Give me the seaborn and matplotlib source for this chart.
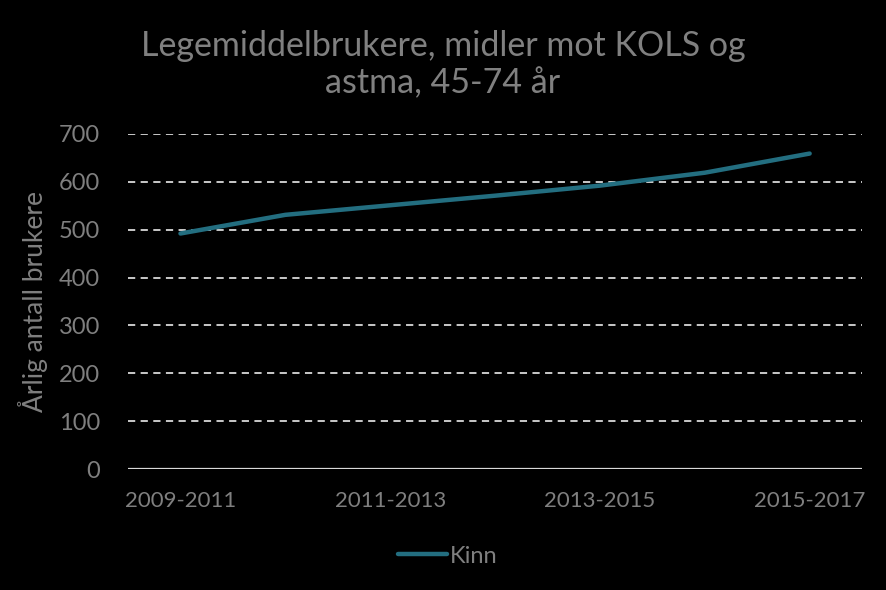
import matplotlib
matplotlib.use("Agg")
import matplotlib.pyplot as plt
import seaborn as sns
import pandas as pd

periods = ["2009-2011", "2010-2012", "2011-2013", "2012-2014",
           "2013-2015", "2014-2016", "2015-2017"]
kinn = [492, 531, 551, 571, 592, 619, 659]
shown_labels = ["2009-2011", "2011-2013", "2013-2015", "2015-2017"]

sns.set_theme(style="dark")
plt.rcParams['font.family'] = ['Lato', 'DejaVu Sans']

df = pd.DataFrame({"idx": range(len(periods)), "periode": periods, "Kinn": kinn})

fig = plt.figure(figsize=(8.86, 5.90), dpi=100, facecolor="black")
ax = fig.add_axes([0.1445, 0.205, 0.8285, 0.568])
ax.set_facecolor("black")

sns.lineplot(data=df, x="idx", y="Kinn", ax=ax, color="#236e80",
             linewidth=3.2, label="Kinn", solid_capstyle="round")

ax.set_xlim(-0.5, len(periods) - 0.5)
ax.set_ylim(0, 700)
ax.set_yticks(range(0, 701, 100))
for v in range(100, 701, 100):
    ax.axhline(v, color="#d9d9d9", linestyle=(0, (4, 3)), linewidth=1.3, zorder=0)
ax.axhline(0, color="#d9d9d9", linewidth=1.6, zorder=1)
ax.grid(False)
for s in ax.spines.values():
    s.set_visible(False)

ax.set_xticks([periods.index(l) for l in shown_labels])
ax.set_xticklabels(shown_labels)
ax.tick_params(axis="x", colors="#7f7f7f", labelsize=16, length=0, pad=16)
ax.tick_params(axis="y", colors="#7f7f7f", labelsize=17, length=0, pad=20)
ax.set_xlabel("")
ax.set_ylabel("Årlig antall brukere", color="#7f7f7f", fontsize=19, labelpad=8)

fig.text(0.5, 0.89, "Legemiddelbrukere, midler mot KOLS og\nastma, 45-74 år",
         ha="center", va="center", color="#808080", fontsize=24.5, linespacing=1.2)

leg = ax.legend(loc="center", bbox_to_anchor=(0.435, -0.26), frameon=False,
                fontsize=17, handlelength=2.1, handletextpad=0.1)
for t in leg.get_texts():
    t.set_color("#7f7f7f")

fig.savefig("out.png", dpi=100, facecolor="black")
